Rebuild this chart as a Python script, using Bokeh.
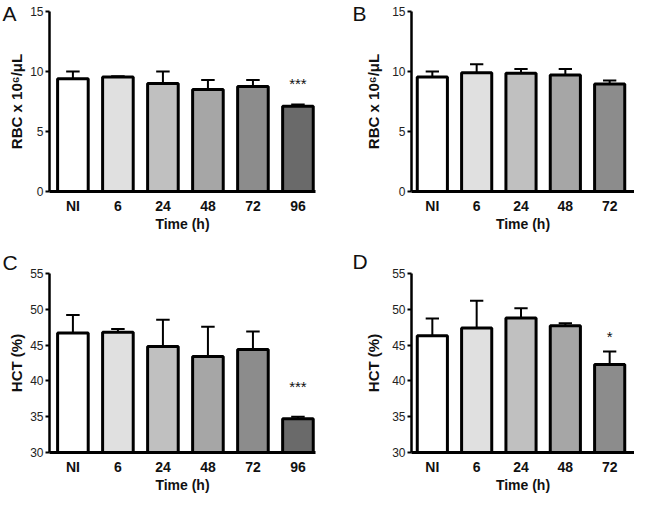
from bokeh.plotting import figure
from bokeh.layouts import gridplot
from bokeh.models import Range1d, FixedTicker
from bokeh.embed import file_html
from bokeh.resources import INLINE
from bokeh.core.properties import value

# ---- data ----
times_A = ["NI", "6", "24", "48", "72", "96"]
times_B = ["NI", "6", "24", "48", "72"]

rbc_A = [9.4, 9.55, 9.0, 8.5, 8.75, 7.1]
rbc_A_err = [0.6, 0.05, 1.0, 0.8, 0.55, 0.15]

rbc_B = [9.55, 9.9, 9.85, 9.7, 8.95]
rbc_B_err = [0.45, 0.7, 0.35, 0.5, 0.3]

hct_C = [46.7, 46.8, 44.8, 43.4, 44.4, 34.7]
hct_C_err = [2.5, 0.45, 3.75, 4.15, 2.5, 0.3]

hct_D = [46.3, 47.4, 48.8, 47.7, 42.3]
hct_D_err = [2.4, 3.8, 1.35, 0.35, 1.8]

shades = ["#ffffff", "#e0e0e0", "#c0c0c0", "#a6a6a6", "#8c8c8c", "#6a6a6a"]

FONT = "Liberation Sans"


def panel(letter, cats, vals, errs, y0, y1, ystep, ylabel, W, H,
          left, right, top, bottom, pad_l, pad_r, ylab_standoff,
          letter_off, letter_standoff, sig=None):
    n = len(cats)
    xs = list(range(n))
    xstart, xend = -pad_l, n - 1 + pad_r
    p = figure(width=W, height=H, x_range=Range1d(xstart, xend), y_range=Range1d(y0, y1),
               output_backend="svg", toolbar_location=None,
               min_border_left=left, min_border_right=right,
               min_border_top=top, min_border_bottom=bottom)
    p.grid.visible = False
    p.outline_line_color = None
    p.background_fill_color = "white"
    p.border_fill_color = "white"

    # panel letter as title, pulled down beside the y axis
    p.title.text = letter
    p.title.text_font = FONT
    p.title.text_font_style = "normal"
    p.title.text_font_size = "21px"
    p.title.text_color = "#111111"
    p.title.align = "left"
    p.title.vertical_align = "bottom"
    p.title.offset = letter_off
    p.title.standoff = letter_standoff

    p.vbar(x=xs, top=vals, bottom=y0, width=0.68, fill_color=shades[:n],
           line_color="black", line_width=3)
    tops = [v + e for v, e in zip(vals, errs)]
    p.segment(x0=xs, y0=vals, x1=xs, y1=tops, line_color="black", line_width=2)
    p.segment(x0=[x - 0.15 for x in xs], y0=tops, x1=[x + 0.15 for x in xs], y1=tops,
              line_color="black", line_width=2)

    # x axis
    xa = p.xaxis[0]
    xa.ticker = FixedTicker(ticks=xs)
    xa.major_label_overrides = {i: c for i, c in enumerate(cats)}
    xa.axis_line_width = 3
    xa.major_tick_out = 0
    xa.major_tick_in = 0
    xa.minor_tick_out = 0
    xa.minor_tick_in = 0
    xa.major_label_text_font = FONT
    xa.major_label_text_font_style = "bold"
    xa.major_label_text_font_size = "14px"
    xa.major_label_text_color = "#111111"
    xa.major_label_standoff = 6
    xa.axis_label = "Time (h)"
    xa.axis_label_text_font = FONT
    xa.axis_label_text_font_style = "bold"
    xa.axis_label_text_font_size = "14px"
    xa.axis_label_text_color = "#111111"
    xa.axis_label_standoff = -1

    # y axis
    ya = p.yaxis[0]
    ya.ticker = FixedTicker(ticks=list(range(y0, y1 + 1, ystep)))
    ya.axis_line_width = 2.5
    ya.major_tick_out = 4
    ya.major_tick_in = 0
    ya.major_tick_line_width = 2
    ya.minor_tick_out = 0
    ya.minor_tick_in = 0
    ya.major_label_text_font = FONT
    ya.major_label_text_font_size = "12px"
    ya.major_label_text_color = "#222222"
    ya.major_label_standoff = 2
    ya.axis_label = ylabel
    ya.axis_label_text_font = FONT
    ya.axis_label_text_font_style = "bold"
    ya.axis_label_text_font_size = "15px"
    ya.axis_label_text_color = "#111111"
    ya.axis_label_standoff = ylab_standoff

    fh = H - top - bottom
    pxu_y = fh / (y1 - y0)

    if sig is not None:
        idx, s, off_px = sig
        p.text(x=[xs[idx]], y=[tops[idx] + off_px / pxu_y], text=[s],
               text_font=value(FONT), text_font_size="15px", text_color="#111111",
               text_align="center", text_baseline="middle")
    return p


pA = panel("A", times_A, rbc_A, rbc_A_err, 0, 15, 5, "RBC x 10\u2076/\u03bcL", 317, 240,
           49, 2, 11, 49, 0.52, 0.39, 2, -47, -26, sig=(5, "***", 21))
pB = panel("B", times_B, rbc_B, rbc_B_err, 0, 15, 5, "RBC x 10\u2076/\u03bcL", 317, 240,
           94, 0, 11, 49, 0.47, 0.56, 7, -59, -26)
pC = panel("C", times_A, hct_C, hct_C_err, 30, 55, 5, "HCT (%)", 317, 255,
           49, 2, 29, 43, 0.52, 0.39, 2, -47, 0, sig=(5, "***", 31))
pD = panel("D", times_B, hct_D, hct_D_err, 30, 55, 5, "HCT (%)", 317, 255,
           94, 0, 33, 43, 0.47, 0.56, 7, -59, 2, sig=(4, "*", 15.5))

grid = gridplot([[pA, pB], [pC, pD]], toolbar_location=None)

open("out.html", "w").write(file_html(grid, INLINE))
